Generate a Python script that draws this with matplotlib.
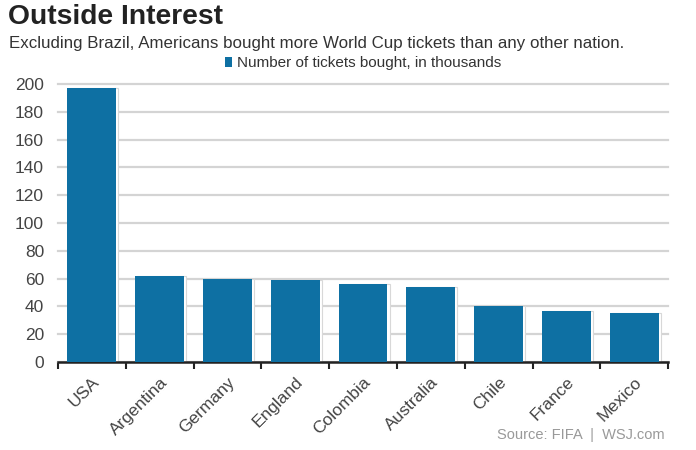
import numpy as np
import matplotlib
matplotlib.use("Agg")
import matplotlib.pyplot as plt

plt.rcParams['font.family'] = ['Liberation Sans', 'DejaVu Sans']

# Data
countries = ["USA", "Argentina", "Germany", "England", "Colombia",
             "Australia", "Chile", "France", "Mexico"]
tickets = [197, 62, 60, 59, 56, 54, 40, 36.5, 35]
yticks = [0, 20, 40, 60, 80, 100, 120, 140, 160, 180, 200]

bar_color = "#0e70a3"
text_gray = "#444444"

fig = plt.figure(figsize=(6.96, 4.5), dpi=100)
ax = fig.add_axes([0.0833, 0.1956, 0.8767, 0.6178])

x = np.arange(len(countries))
# faint white/grey outline offset to the right, like the reference
ax.bar(x + 0.03, tickets, width=0.72, color="white", edgecolor="#d8d8d8",
       linewidth=0.8, zorder=2)
ax.bar(x, tickets, width=0.72, color=bar_color, zorder=3,
       label="Number of tickets bought, in thousands")

ax.set_xlim(-0.5, len(countries) - 0.5)
ax.set_ylim(0, 200)
ax.set_yticks(yticks)
ax.set_yticklabels([str(v) for v in yticks], fontsize=12.5, color=text_gray)
ax.tick_params(axis="y", length=0, pad=10)

ax.yaxis.grid(True, color="#d4d4d4", linewidth=1.6, zorder=0)
ax.set_axisbelow(True)
for g in ax.get_ygridlines():
    g.set_clip_on(False)

for s in ["top", "right", "left"]:
    ax.spines[s].set_visible(False)
ax.spines["bottom"].set_color("#222222")
ax.spines["bottom"].set_linewidth(1.8)

# ticks at category boundaries, labels at centers
ax.set_xticks(np.arange(len(countries) + 1) - 0.5)
ax.set_xticklabels([])
ax.tick_params(axis="x", direction="out", length=5, width=1.5, color="#222222")
ax.set_xticks(x, minor=True)
ax.set_xticklabels(countries, minor=True, rotation=45, ha="right",
                   rotation_mode="anchor", fontsize=12.5, color=text_gray)
ax.tick_params(axis="x", which="minor", length=0, pad=9)

fig.text(0.012, 0.962, "Outside Interest", fontsize=20.3, fontweight="bold",
         color="#222222", va="center")
fig.text(0.013, 0.903,
         "Excluding Brazil, Americans bought more World Cup tickets than any other nation.",
         fontsize=12.2, color="#333333", va="center")
ax.legend(loc="center", bbox_to_anchor=(0.5, 1.075), frameon=False,
          fontsize=11, handlelength=0.5, handleheight=0.6, handletextpad=0.3,
          labelcolor="#333333")
fig.text(0.955, 0.033, "Source: FIFA  |  WSJ.com", fontsize=10.5,
         color="#999999", ha="right", va="center")

fig.savefig("out.png", dpi=100)
